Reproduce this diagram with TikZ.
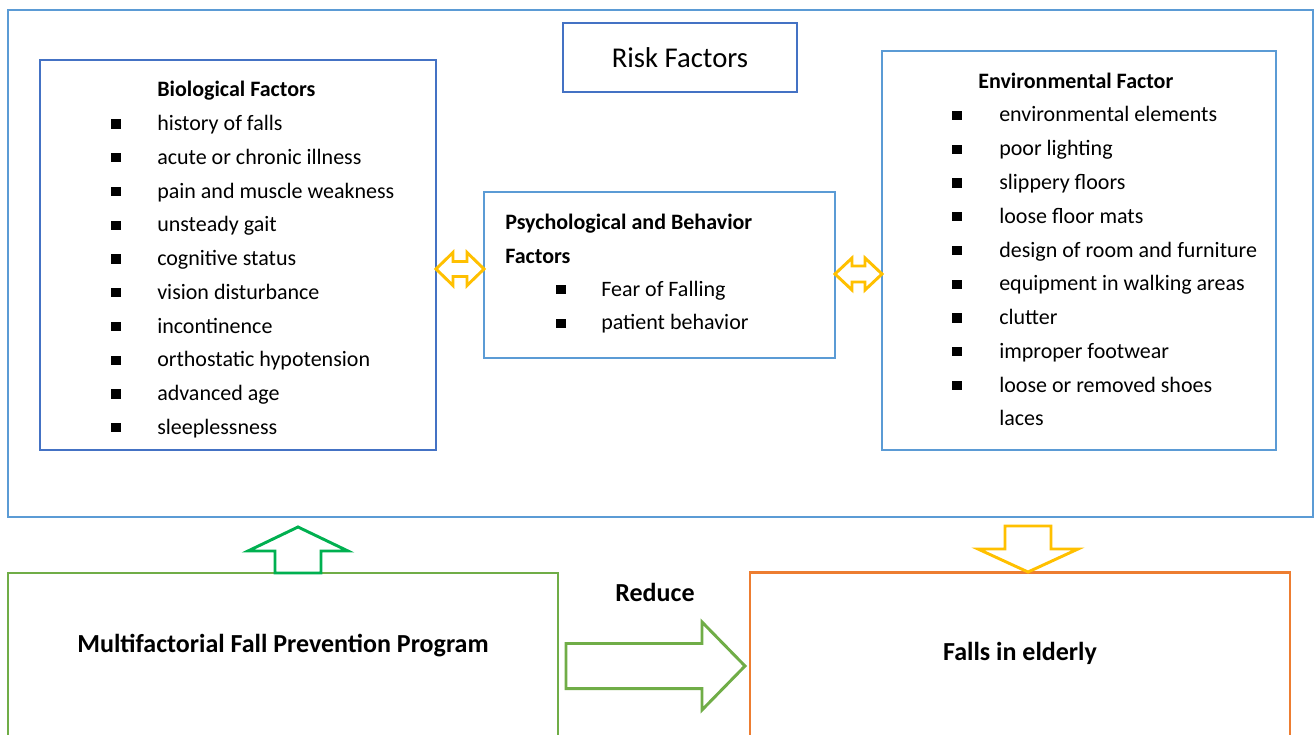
\documentclass[tikz,border=0pt]{standalone}
\usepackage{fontspec}
\setmainfont{Carlito}
\usetikzlibrary{calc}
\definecolor{darkblue}{HTML}{4472C4}
\definecolor{lightblue}{HTML}{5B9BD5}
\definecolor{arrowyellow}{HTML}{FFC000}
\definecolor{arrowgreen}{HTML}{00B050}
\definecolor{boxgreen}{HTML}{70AD47}
\definecolor{boxorange}{HTML}{ED7D31}
\tikzset{
    darkbox/.style={draw=darkblue, line width=1.7pt, inner sep=0pt},
    lightbox/.style={draw=lightblue, line width=1.7pt, inner sep=0pt},
    itemtext/.style={anchor=base west, inner sep=0pt, font=\fontsize{16.5}{18}\selectfont},
    titletext/.style={itemtext, font=\fontsize{16.5}{18}\selectfont\bfseries},
    bottomtext/.style={font=\fontsize{19.5}{22}\selectfont\bfseries},
    bulletsq/.style={fill=black, minimum size=7pt, inner sep=0pt},
    blockarrow/.style={line width=2.2pt, line join=miter, fill=white}
}
% bullet list: name, bullet x, text x, first baseline, items
\newcommand{\drawitems}[5]{
    \foreach \txt [count=\i] in {#5}{
        \node[bulletsq] (#1b\i) at (#2,{#4+(\i-1)*33.75-6.5}) {};
        \node[itemtext] (#1t\i) at (#3,{#4+(\i-1)*33.75}) {\txt};
    }
}
% double block arrow between two tips: left, right, colour, head half, shaft half
\newcommand{\hdoublearrow}[5]{
    \draw[blockarrow, draw=#3] (#1) -- ($(#1)+(17,-#4)$) -- ($(#1)+(17,-#5)$) -- ($(#2)+(-17,-#5)$) -- ($(#2)+(-17,-#4)$) -- (#2)
        -- ($(#2)+(-17,#4)$) -- ($(#2)+(-17,#5)$) -- ($(#1)+(17,#5)$) -- ($(#1)+(17,#4)$) -- cycle;
}
% single block arrow: tail, tip, colour, head length, head half, shaft half
\newcommand{\singlearrow}[6]{
    \coordinate (#1c) at ($(#2)!#4!(#1)$);
    \draw[blockarrow, draw=#3] ($(#1)!#6!90:(#2)$) -- ($(#1c)!#6!90:(#2)$) -- ($(#1c)!#5!90:(#2)$) -- (#2)
        -- ($(#1c)!#5!-90:(#2)$) -- ($(#1c)!#6!-90:(#2)$) -- ($(#1)!#6!-90:(#2)$) -- cycle;
}

\begin{document}
\begin{tikzpicture}[x=0.75pt, y=-0.75pt]
    \useasboundingbox[fill=white] (0,0) rectangle (1315,735);
    \clip (0,0) rectangle (1315,735);

    % Risk factors frame
    \node[lightbox, minimum width=978.75pt, minimum height=380.25pt] (outer) at (660.5,263.5) {};
    \node[darkbox, minimum width=175.5pt, minimum height=51.75pt, font=\fontsize{21.5}{24}\selectfont] (risk) at (680,57.5) {Risk Factors};

    % Biological factors
    \node[darkbox, minimum width=297pt, minimum height=292.5pt] (bio) at (238,255) {};
    \node[titletext] (biotitle) at (157,97) {Biological Factors};
    \drawitems{bio}{116}{157}{130.5}{history of falls, acute or chronic illness, pain and muscle weakness, unsteady gait,
        cognitive status, vision disturbance, incontinence, orthostatic hypotension, advanced age, sleeplessness}

    % Psychological and behavior factors
    \node[lightbox, minimum width=263.25pt, minimum height=124.5pt] (psy) at (659.5,275) {};
    \node[titletext] (psytitle) at (505,229) {Psychological and Behavior};
    \node[titletext] (psytitle2) at (505,263) {Factors};
    \drawitems{psy}{561}{601}{296}{Fear of Falling, patient behavior}

    % Environmental factor
    \node[lightbox, minimum width=295.5pt, minimum height=299.25pt] (env) at (1079,250.5) {};
    \node[titletext] (envtitle) at (978,89) {Environmental Factor};
    \drawitems{env}{957}{999}{122}{environmental elements, poor lighting, slippery floors, loose floor mats,
        design of room and furniture, equipment in walking areas, clutter, improper footwear, loose or removed shoes}
    \node[itemtext] (envt10) at (999,425.75) {laces};

    % Bottom boxes
    \node[draw=boxgreen, line width=1.7pt, minimum width=412.5pt, minimum height=135pt] (prog) at (283,663) {};
    \node[bottomtext] (progtext) at (283,646) {Multifactorial Fall Prevention Program};
    \node[draw=boxorange, line width=1.7pt, minimum width=405pt, minimum height=135pt] (falls) at (1020,662.5) {};
    \node[bottomtext] (fallstext) at (1020,653) {Falls in elderly};
    \node[bottomtext] (reduce) at (655,592) {Reduce};

    % Arrows
    \coordinate (dl1) at (436,269);
    \coordinate (dl2) at (484,269);
    \hdoublearrow{dl1}{dl2}{arrowyellow}{16.5}{7.5}
    \coordinate (dr1) at (835,274);
    \coordinate (dr2) at (882,274);
    \hdoublearrow{dr1}{dr2}{arrowyellow}{16}{8}
    \coordinate (up) at (298,573);
    \coordinate (upT) at (298,527);
    \singlearrow{up}{upT}{arrowgreen}{18pt}{37.5pt}{17.25pt}
    \coordinate (down) at (1028,526);
    \coordinate (downT) at (1028,572);
    \singlearrow{down}{downT}{arrowyellow}{17.25pt}{37.5pt}{17.25pt}
    \coordinate (red) at (566,666);
    \coordinate (redT) at (745,666);
    \singlearrow{red}{redT}{boxgreen}{32.25pt}{33pt}{16.9pt}
\end{tikzpicture}
\end{document}
